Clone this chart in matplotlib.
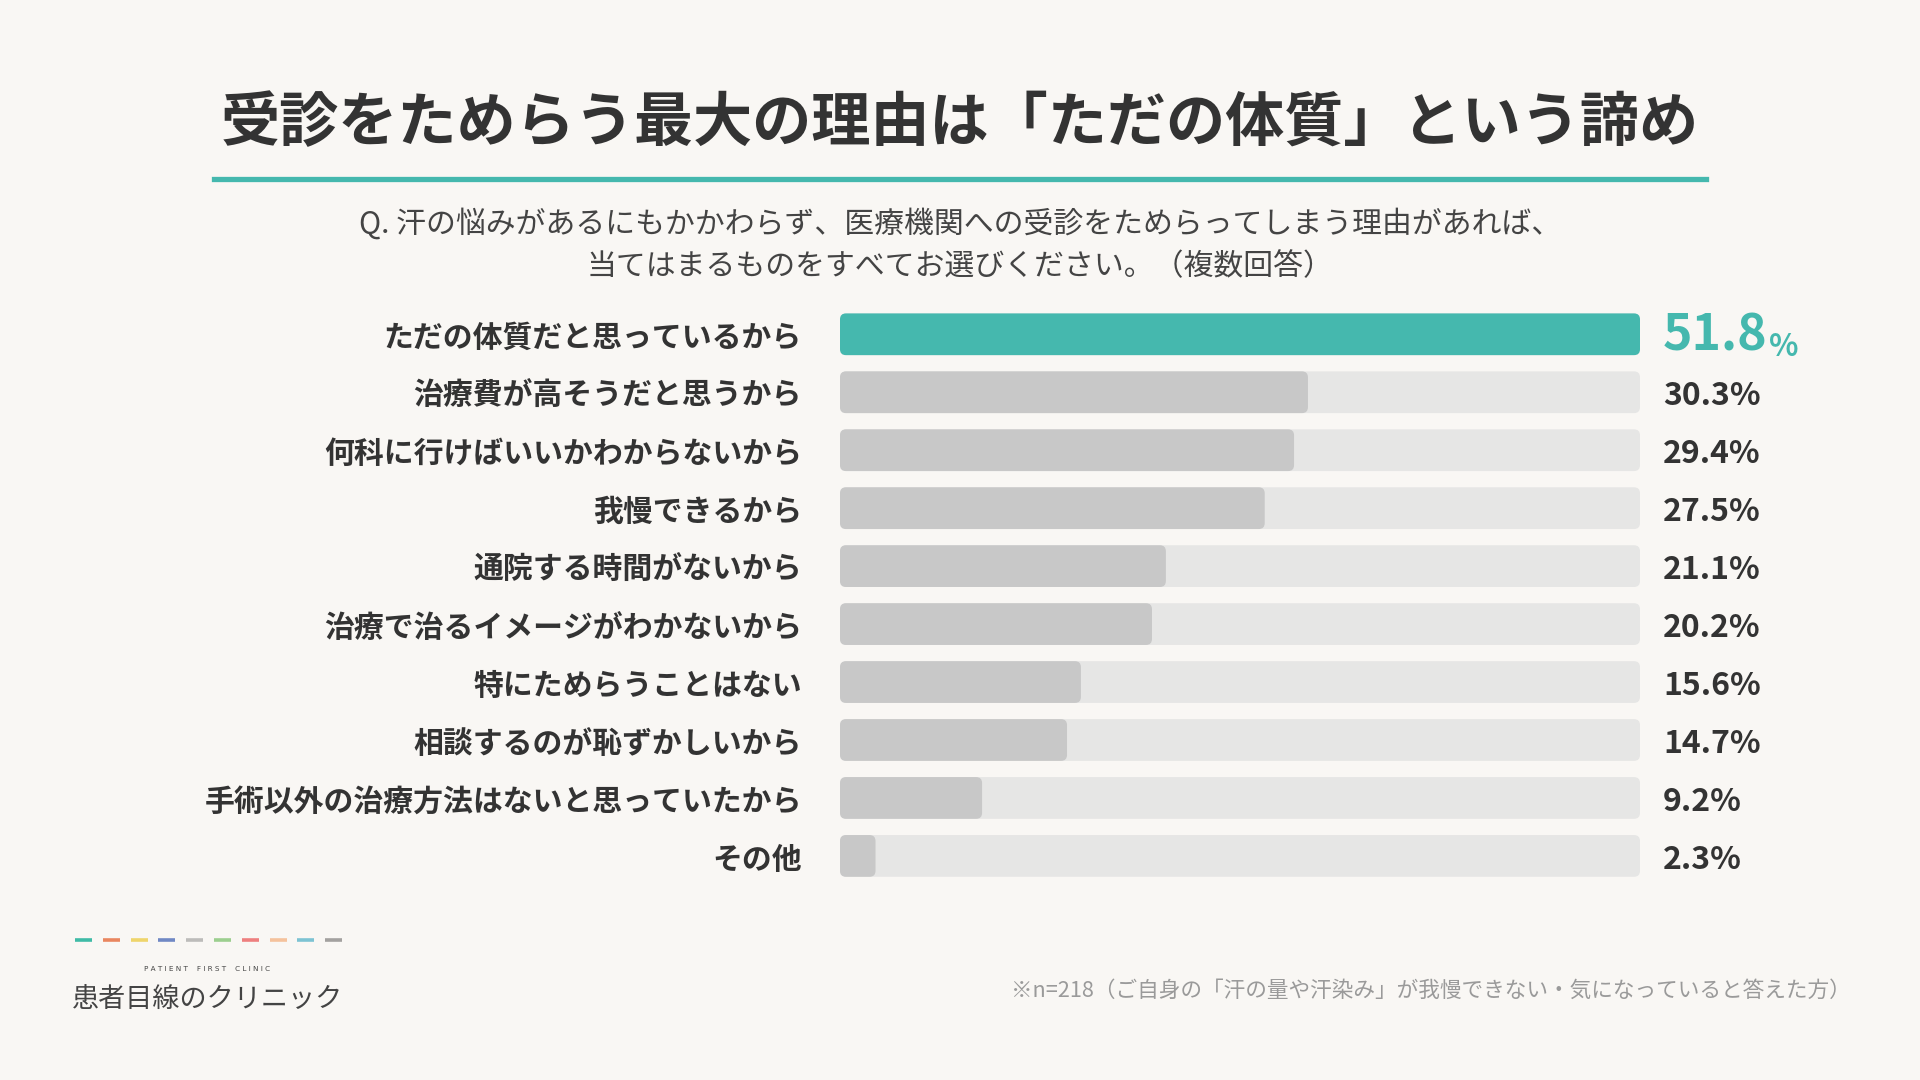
import matplotlib

matplotlib.use("Agg")
import matplotlib.pyplot as plt  # noqa: E402
from matplotlib.patches import FancyBboxPatch  # noqa: E402

plt.rcParams["font.family"] = ["Noto Sans CJK JP", "DejaVu Sans"]

# data
reasons = [
    "ただの体質だと思っているから",
    "治療費が高そうだと思うから",
    "何科に行けばいいかわからないから",
    "我慢できるから",
    "通院する時間がないから",
    "治療で治るイメージがわかないから",
    "特にためらうことはない",
    "相談するのが恥ずかしいから",
    "手術以外の治療方法はないと思っていたから",
    "その他",
]
shares = [51.8, 30.3, 29.4, 27.5, 21.1, 20.2, 15.6, 14.7, 9.2, 2.3]
logo_colors = ["#3fbba6", "#e9865f", "#efd56b", "#7088c4", "#bdbcba",
               "#9ccf8f", "#ee7f7f", "#f5c29c", "#7dc3d3", "#a3a19f"]

BG = "#f9f7f4"
TEAL = "#45b8ae"
GREY_BAR = "#c8c8c8"
TRACK = "#e6e6e5"
INK = "#333333"

W, H = 1920, 1080
fig = plt.figure(figsize=(19.2, 10.8), dpi=100, facecolor=BG)

# bar axes (pixel layout of the reference)
x0, x1 = 840, 1640
row_top, row_h = 334.3 - 29, 57.96
ax = fig.add_axes([x0 / W, 1 - (row_top + 10 * row_h) / H, (x1 - x0) / W, 10 * row_h / H])
ax.set_facecolor("none")
xmax = max(shares)
ax.set_xlim(0, xmax)
ax.set_ylim(9.5, -0.5)
ax.axis("off")

px_x = (x1 - x0) / xmax  # pixels per x unit
px_y = row_h             # pixels per y unit
asp = px_x / px_y
r = 6 / px_x
bh = 0.72
dy = 4 / px_y  # CJK glyphs sit a little high with va=center

for i, (lab, v) in enumerate(zip(reasons, shares)):
    ax.add_patch(FancyBboxPatch((0, i - bh / 2), xmax, bh,
                                boxstyle=f"round,pad=0,rounding_size={r}",
                                mutation_aspect=asp, fc=TRACK, ec="none"))
    ax.add_patch(FancyBboxPatch((0, i - bh / 2), v, bh,
                                boxstyle=f"round,pad=0,rounding_size={r}",
                                mutation_aspect=asp, fc=TEAL if i == 0 else GREY_BAR, ec="none"))
    ax.text(-38 / px_x, i + dy, lab, ha="right", va="center", fontsize=21.5,
            fontweight="bold", color=INK)
    if i == 0:
        t = ax.text(xmax + 23 / px_x, i + dy * 0.5, f"{v:.1f}", ha="left", va="center",
                    fontsize=36, fontweight="bold", color=TEAL)
        fig.canvas.draw()
        bb = t.get_window_extent()
        fig.text((bb.x1 + 1) / W, (bb.y0 + 6) / H, "%", ha="left", va="baseline",
                 fontsize=22, fontweight="bold", color=TEAL)
    else:
        ax.text(xmax + 23 / px_x, i + dy, f"{v:.1f}%", ha="left", va="center",
                fontsize=23, fontweight="bold", color=INK)

# title
fig.text(0.5, 1 - 124 / H, "受診をためらう最大の理由は「ただの体質」という諦め",
         ha="center", va="center", fontsize=42.6, fontweight="bold", color=INK)
fig.add_artist(plt.Line2D([214 / W, 1706 / W], [1 - 179 / H] * 2, color=TEAL, lw=3.8))
fig.text(0.5, 1 - 223.5 / H, "Q. 汗の悩みがあるにもかかわらず、医療機関への受診をためらってしまう理由があれば、",
         ha="center", va="center", fontsize=21.5, color="#444444")
fig.text(0.5, 1 - 266.5 / H, "当てはまるものをすべてお選びください。（複数回答）",
         ha="center", va="center", fontsize=21.5, color="#444444")

# footnote
fig.text(1851 / W, 1 - 991 / H,
         "※n=218（ご自身の「汗の量や汗染み」が我慢できない・気になっていると答えた方）",
         ha="right", va="center", fontsize=15.6, color="#9a9a9a")

# logo
for k, c in enumerate(logo_colors):
    xs = 75 + k * 27.8
    fig.add_artist(plt.Line2D([xs / W, (xs + 17) / W], [1 - 940 / H] * 2,
                              color=c, lw=2.6, solid_capstyle="butt"))
fig.text(207 / W, 1 - 969 / H, "P A T I E N T    F I R S T    C L I N I C",
         ha="center", va="center", fontsize=5.2, color="#444444",
         family="DejaVu Sans")
fig.text(208 / W, 1 - 999 / H, "患者目線のクリニック", ha="center", va="center",
         fontsize=19.5, color="#444444")

fig.savefig("out.png", dpi=100, facecolor=BG)
